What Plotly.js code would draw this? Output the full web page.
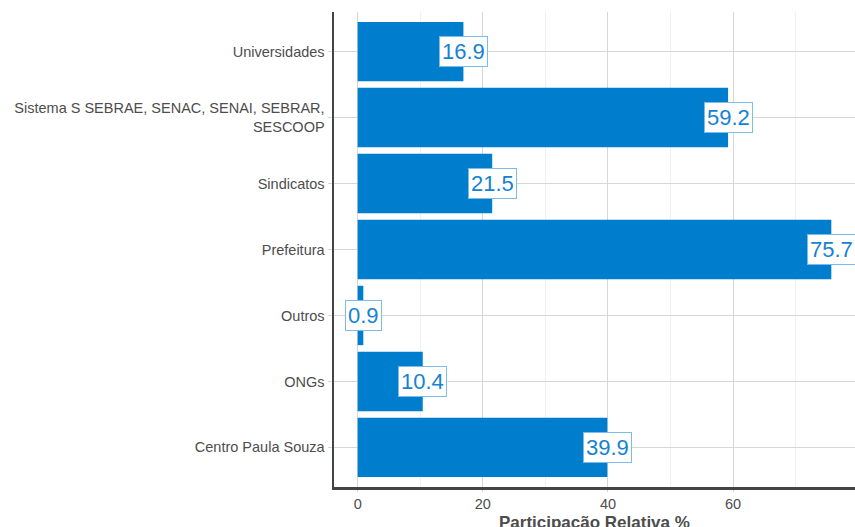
<!DOCTYPE html>
<html>
<head>
<meta charset="utf-8">
<script src="https://cdn.plot.ly/plotly-3.0.1.min.js"></script>
<style>html,body{margin:0;padding:0;background:#fff;}#chart{width:855px;height:527px;}</style>
</head>
<body>
<div id="chart"></div>
<script>
const categories = ["Centro Paula Souza", "ONGs", "Outros", "Prefeitura", "Sindicatos", "Sistema S SEBRAE, SENAC, SENAI, SEBRAR,<br>SESCOOP", "Universidades"];
const values = [39.9, 10.4, 0.9, 75.7, 21.5, 59.2, 16.9];
const valueLabels = ["39.9", "10.4", "0.9", "75.7", "21.5", "59.2", "16.9"];
const xTicks = [0, 20, 40, 60];

const barColor = '#007ECE';
const labelColor = '#1583D3';

const trace = {
  type: 'bar',
  orientation: 'h',
  x: values,
  y: categories,
  width: 0.9,
  marker: {color: barColor},
  hoverinfo: 'skip'
};

const annotations = values.map((v, i) => ({
  x: v, y: categories[i], xref: 'x', yref: 'y',
  text: valueLabels[i], showarrow: false,
  xanchor: 'center', yanchor: 'middle',
  font: {family: 'Liberation Sans, Arial, sans-serif', size: 22, color: labelColor},
  bgcolor: '#ffffff', bordercolor: '#7dbbe9', borderwidth: 1, borderpad: 2
}));

annotations.push({
  xref: 'paper', yref: 'paper', x: 0.5, y: 0, yshift: -47,
  xanchor: 'center', yanchor: 'bottom', showarrow: false,
  text: '<b>Participação Relativa %</b>',
  font: {family: 'Liberation Sans, Arial, sans-serif', size: 17, color: '#4d4d4d'}
});

const layout = {
  width: 855, height: 527,
  margin: {l: 334, r: 0, t: 12, b: 40},
  paper_bgcolor: '#ffffff', plot_bgcolor: '#ffffff',
  showlegend: false,
  font: {family: 'Liberation Sans, Arial, sans-serif', size: 14.5, color: '#4d4d4d'},
  xaxis: {
    range: [-3.785, 79.485],
    tickvals: xTicks, ticktext: xTicks.map(String),
    showgrid: true, gridcolor: '#d6d6d6', gridwidth: 1,
    minor: {dtick: 10, showgrid: true, gridcolor: '#f0f0f0', gridwidth: 1},
    zeroline: false,
    showline: true, linecolor: '#444444', linewidth: 2.5,
    ticks: 'outside', ticklen: 2, tickcolor: '#d6d6d6',
    tickfont: {size: 14.5, color: '#4d4d4d'}
  },
  yaxis: {
    type: 'category',
    categoryorder: 'array', categoryarray: categories,
    range: [-0.6, 6.6],
    showgrid: true, gridcolor: '#d6d6d6', gridwidth: 1,
    zeroline: false,
    showline: true, linecolor: '#444444', linewidth: 2.5,
    ticks: 'outside', ticklen: 4, tickcolor: '#d6d6d6',
    tickfont: {size: 14.5, color: '#4d4d4d'}
  },
  annotations: annotations
};

Plotly.newPlot('chart', [trace], layout, {displayModeBar: false, staticPlot: true});
</script>
</body>
</html>
